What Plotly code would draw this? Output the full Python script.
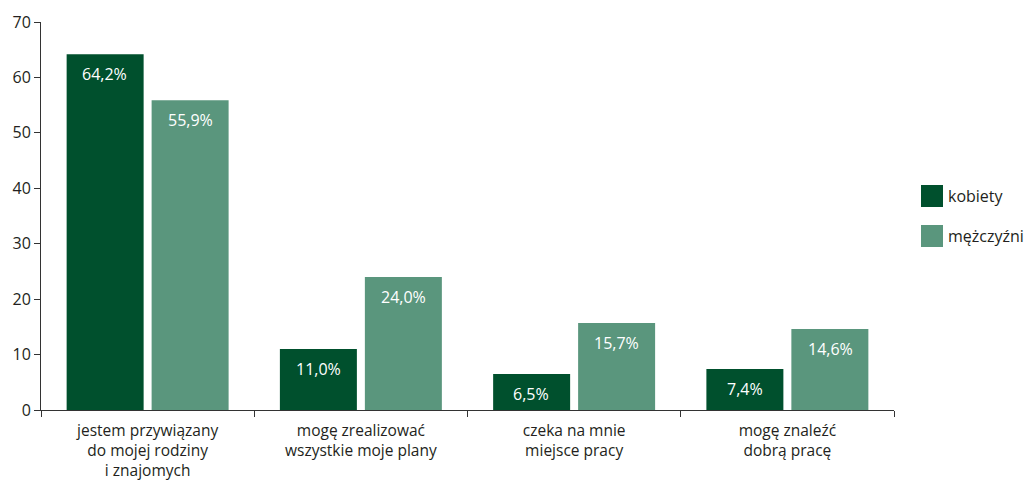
import plotly.graph_objects as go

categories = [
    "jestem przywiązany<br>do mojej rodziny<br>i znajomych",
    "mogę zrealizować<br>wszystkie moje plany",
    "czeka na mnie<br>miejsce pracy",
    "mogę znaleźć<br>dobrą pracę",
]
series_names = ["kobiety", "mężczyźni"]
kobiety = [64.2, 11.0, 6.5, 7.4]
mezczyzni = [55.9, 24.0, 15.7, 14.6]
colors = ["#00502D", "#5A967D"]
y_ticks = [0, 10, 20, 30, 40, 50, 60, 70]

FONT = "Open Sans"
TXT = "#231F20"

fig = go.Figure()
for name, vals, col in zip(series_names, [kobiety, mezczyzni], colors):
    fig.add_trace(go.Bar(
        x=categories, y=vals, name=name, marker=dict(color=col, line=dict(width=0)),
        showlegend=False, hoverinfo="skip",
    ))

# value labels inside bars near the top
for i, (vals, off) in enumerate(zip([kobiety, mezczyzni], [-0.2, 0.2])):
    for j, v in enumerate(vals):
        fig.add_annotation(
            x=j + off, y=v, xref="x", yref="y",
            text=f"{v:.1f}%".replace(".", ","), showarrow=False,
            yshift=-20, font=dict(family=FONT, size=16, color="white"),
        )

# manual legend
for k, (name, col) in enumerate(zip(series_names, colors)):
    yc = 196 + 40 * k
    fig.add_shape(type="rect", xref="paper", yref="paper",
                  x0=(921 - 41) / 853, x1=(943 - 41) / 853,
                  y0=(410 - (yc + 11)) / 388, y1=(410 - (yc - 11)) / 388,
                  fillcolor=col, line=dict(width=0))
    fig.add_annotation(xref="paper", yref="paper", x=(946 - 41) / 853,
                       y=(410 - yc) / 388, xanchor="left", yanchor="middle",
                       text=name, showarrow=False, align="left",
                       font=dict(family=FONT, size=16, color=TXT))

fig.update_layout(
    width=1032, height=482,
    margin=dict(l=41, r=138, t=22, b=72, autoexpand=False),
    paper_bgcolor="white", plot_bgcolor="white",
    barmode="group", bargap=0.203, bargroupgap=0.094,
    font=dict(family=FONT, size=16, color=TXT),
    xaxis=dict(
        type="category", tickson="boundaries", ticks="outside", ticklen=6,
        tickcolor="#333", showline=True, linecolor="#333", linewidth=1,
        showgrid=False, tickfont=dict(size=15.5, color=TXT), automargin=False,
        ticklabelstandoff=6,
    ),
    yaxis=dict(
        range=[0, 70], tickvals=y_ticks, ticks="outside", ticklen=6,
        tickcolor="#333", showline=True, linecolor="#333", linewidth=1,
        showgrid=False, zeroline=False, tickfont=dict(size=16, color=TXT),
        automargin=False,
    ),
)

fig.write_html("out.html", config={"displayModeBar": False},
               post_script="document.body.style.margin='0';")
